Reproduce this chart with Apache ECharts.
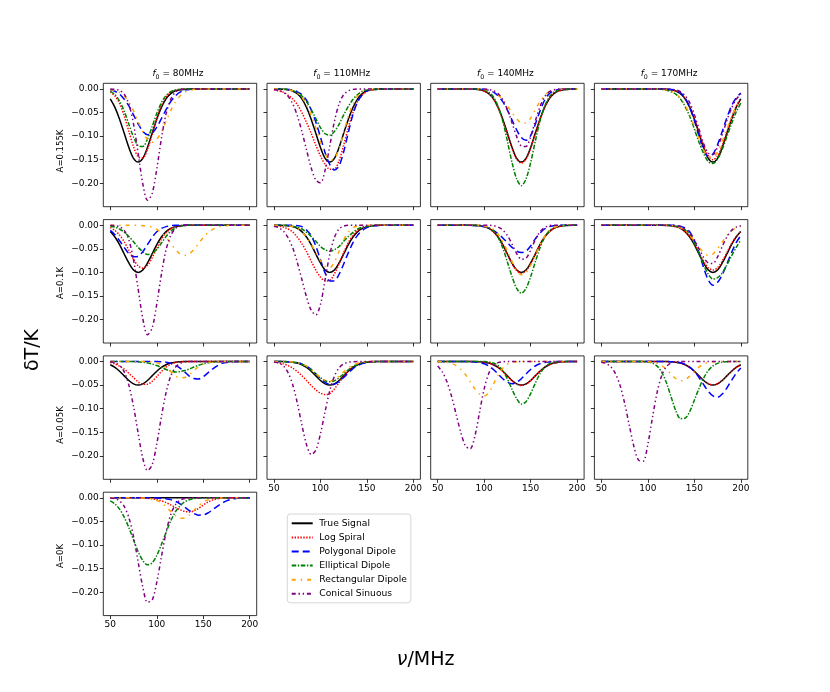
<!DOCTYPE html>
<html>
<head>
<meta charset="utf-8">
<script src="https://cdn.jsdelivr.net/npm/echarts@6/dist/echarts.min.js"></script>
<style>html,body{margin:0;padding:0;background:#fff}#c{width:830px;height:692px}</style>
</head>
<body>
<div id="c"></div>
<script>
// ---------------- data ----------------
const X = [50,55,60,65,70,75,80,85,90,95,100,105,110,115,120,125,130,135,140,145,150,155,160,165,170,175,180,185,190,195,200];
const XTICKS = [50,100,150,200];
const YTICKS = [0,-0.05,-0.1,-0.15,-0.2];
const NAMES = ['True Signal','Log Spiral','Polygonal Dipole','Elliptical Dipole','Rectangular Dipole','Conical Sinuous'];
const ROW_LABELS = ['A=0.155K','A=0.1K','A=0.05K','A=0K'];
const F0 = ['80','110','140','170'];

// Row 1: A = 0.155 K
const r1c1_true = [-0.021,-0.039,-0.064,-0.094,-0.124, -0.147,-0.155,-0.147,-0.124,-0.094, -0.064,-0.039,-0.021,-0.010,-0.004, -0.002,-0.001,0,0,0, 0,0,0,0,0, 0,0,0,0,0, 0];
const r1c1_log  = [-0.006,-0.015,-0.031,-0.057,-0.090, -0.122,-0.144,-0.146,-0.128,-0.097, -0.063,-0.035,-0.017,-0.007,-0.003, -0.001,0,0,0,0, 0,0,0,0,0, 0,0,0,0,0, 0];
const r1c1_poly = [-0.002,-0.005,-0.011,-0.022,-0.036, -0.055,-0.074,-0.090,-0.097,-0.094, -0.081,-0.063,-0.044,-0.027,-0.015, -0.007,-0.003,-0.001,0,0, 0,0,0,0,0, 0,0,0,0,0, 0];
const r1c1_ell  = [-0.005,-0.012,-0.026,-0.047,-0.075, -0.102,-0.120,-0.122,-0.106,-0.080, -0.052,-0.029,-0.014,-0.006,-0.002, -0.001,0,0,0,0, 0,0,0,0,0, 0,0,0,0,0, 0];
const r1c1_rect = [-0.001,-0.003,-0.007,-0.015,-0.028, -0.046,-0.069,-0.091,-0.107,-0.113, -0.107,-0.091,-0.069,-0.046,-0.028, -0.015,-0.007,-0.003,-0.001,0, 0,0,0,0,0, 0,0,0,0,0, 0];
const r1c1_con  = [0,-0.001,-0.003,-0.011,-0.032, -0.074,-0.137,-0.201,-0.236,-0.222, -0.170,-0.105,-0.053,-0.022,-0.007, -0.002,0,0,0,0, 0,0,0,0,0, 0,0,0,0,0, 0];

const r1c2_true = [0,-0.0002,-0.0006,-0.0017,-0.0044, -0.0102,-0.021,-0.039,-0.064,-0.094, -0.124,-0.147,-0.155,-0.147,-0.124, -0.094,-0.064,-0.039,-0.021,-0.010, -0.004,-0.002,-0.001,0,0, 0,0,0,0,0, 0];
const r1c2_log  = [-0.002,-0.004,-0.007,-0.013,-0.021, -0.033,-0.050,-0.071,-0.094,-0.119, -0.142,-0.160,-0.170,-0.170,-0.152, -0.119,-0.082,-0.050,-0.027,-0.013, -0.005,-0.002,-0.001,0,0, 0,0,0,0,0, 0];
const r1c2_poly = [0,0,-0.0003,-0.001,-0.002, -0.006,-0.012,-0.024,-0.044,-0.070, -0.102,-0.135,-0.160,-0.172,-0.163, -0.133,-0.092,-0.054,-0.027,-0.012, -0.004,-0.001,0,0,0, 0,0,0,0,0, 0];
const r1c2_ell  = [0,-0.0001,-0.0005,-0.001,-0.003, -0.008,-0.015,-0.027,-0.044,-0.063, -0.082,-0.095,-0.098,-0.090,-0.075, -0.055,-0.037,-0.022,-0.012,-0.005, -0.002,-0.001,0,0,0, 0,0,0,0,0, 0];
const r1c2_rect = [0,0,-0.001,-0.002,-0.004, -0.009,-0.018,-0.033,-0.056,-0.083, -0.113,-0.137,-0.151,-0.148,-0.126, -0.092,-0.058,-0.032,-0.015,-0.006, -0.002,-0.001,0,0,0, 0,0,0,0,0, 0];
const r1c2_con  = [-0.001,-0.003,-0.007,-0.015,-0.031, -0.056,-0.090,-0.129,-0.167,-0.193, -0.199,-0.172,-0.121,-0.069,-0.032, -0.012,-0.004,-0.001,0,0, 0,0,0,0,0, 0,0,0,0,0, 0];

const r1c3_true = [0,0,0,0,0, 0,0,-0.0002,-0.0006,-0.0017, -0.0044,-0.0102,-0.021,-0.039,-0.064, -0.094,-0.124,-0.147,-0.155,-0.147, -0.124,-0.094,-0.064,-0.039,-0.021, -0.010,-0.004,-0.002,-0.001,0, 0];
const r1c3_log  = [0,0,0,0,0, 0,0,-0.0002,-0.0006,-0.0017, -0.0045,-0.010,-0.021,-0.040,-0.065, -0.095,-0.126,-0.149,-0.157,-0.149, -0.126,-0.095,-0.065,-0.040,-0.021, -0.010,-0.0045,-0.0017,-0.0006,-0.0002, 0];
const r1c3_poly = [0,0,0,0,0, 0,0,0,0,0, -0.001,-0.003,-0.007,-0.015,-0.027, -0.045,-0.066,-0.087,-0.103,-0.109, -0.099,-0.075,-0.047,-0.024,-0.010, -0.004,-0.001,0,0,0, 0];
const r1c3_ell  = [0,0,0,0,0, 0,0,0,-0.0002,-0.0008, -0.0025,-0.007,-0.017,-0.037,-0.068, -0.111,-0.156,-0.191,-0.205,-0.191, -0.156,-0.111,-0.068,-0.037,-0.017, -0.007,-0.0025,-0.0008,-0.0002,0, 0];
const r1c3_rect = [0,0,0,0,0, 0,0,0,0,0, -0.001,-0.003,-0.006,-0.013,-0.023, -0.036,-0.050,-0.063,-0.072,-0.072, -0.062,-0.044,-0.027,-0.014,-0.006, -0.002,-0.001,0,0,0, 0];
const r1c3_con  = [0,0,0,0,0, 0,0,0,0,0, 0,-0.001,-0.004,-0.010,-0.023, -0.044,-0.072,-0.101,-0.121,-0.122, -0.101,-0.068,-0.038,-0.017,-0.006, -0.002,0,0,0,0, 0];

const r1c4_true = [0,0,0,0,0, 0,0,0,0,0, 0,0,0,-0.0002,-0.0006, -0.0017,-0.0044,-0.010,-0.021,-0.039, -0.064,-0.094,-0.124,-0.147,-0.155, -0.147,-0.124,-0.094,-0.064,-0.039, -0.021];
const r1c4_log  = [0,0,0,0,0, 0,0,0,0,0, 0,0,0,0,-0.001, -0.002,-0.004,-0.010,-0.020,-0.037, -0.062,-0.091,-0.120,-0.142,-0.150, -0.142,-0.120,-0.091,-0.062,-0.037, -0.020];
const r1c4_poly = [0,0,0,0,0, 0,0,0,0,0, 0,0,0,0,0, -0.001,-0.003,-0.008,-0.019,-0.039, -0.067,-0.100,-0.129,-0.143,-0.138, -0.118,-0.090,-0.061,-0.036,-0.019, -0.009];
const r1c4_ell  = [0,0,0,0,0, 0,0,0,0,0, 0,0,0,-0.001,-0.0025, -0.006,-0.011,-0.021,-0.037,-0.058, -0.085,-0.113,-0.137,-0.154,-0.158, -0.148,-0.128,-0.101,-0.074,-0.049, -0.030];
const r1c4_rect = [0,0,0,0,0, 0,0,0,0,0, 0,0,0,-0.001,-0.002, -0.005,-0.010,-0.020,-0.034,-0.055, -0.080,-0.106,-0.129,-0.143,-0.144, -0.133,-0.111,-0.085,-0.060,-0.038, -0.022];
const r1c4_con  = [0,0,0,0,0, 0,0,0,0,0, 0,0,0,0,0, -0.001,-0.002,-0.006,-0.014,-0.029, -0.054,-0.085,-0.116,-0.136,-0.139, -0.123,-0.097,-0.067,-0.041,-0.022, -0.010];

// Row 2: A = 0.1 K
const r2c1_true = [-0.0135,-0.025,-0.041,-0.061,-0.080, -0.095,-0.100,-0.095,-0.080,-0.061, -0.041,-0.025,-0.0135,-0.0066,-0.003, -0.001,-0.0004,0,0,0, 0,0,0,0,0, 0,0,0,0,0, 0];
const r2c1_log  = [-0.005,-0.011,-0.021,-0.035,-0.053, -0.072,-0.086,-0.091,-0.085,-0.069, -0.049,-0.030,-0.016,-0.008,-0.003, -0.001,0,0,0,0, 0,0,0,0,0, 0,0,0,0,0, 0];
const r2c1_poly = [-0.011,-0.020,-0.033,-0.047,-0.060, -0.067,-0.066,-0.056,-0.041,-0.026, -0.014,-0.007,-0.003,-0.001,0, 0,0,0,0,0, 0,0,0,0,0, 0,0,0,0,0, 0];
const r2c1_ell  = [-0.002,-0.004,-0.008,-0.015,-0.024, -0.035,-0.047,-0.056,-0.062,-0.060, -0.051,-0.038,-0.024,-0.013,-0.006, -0.002,-0.001,0,0,0, 0,0,0,0,0, 0,0,0,0,0, 0];
const r2c1_rect = [0,0,0,0,0, 0,0,-0.001,-0.002,-0.004, -0.009,-0.016,-0.026,-0.039,-0.051, -0.061,-0.064,-0.061,-0.051,-0.039, -0.026,-0.016,-0.009,-0.004,-0.002, -0.001,0,0,0,0, 0];
const r2c1_con  = [0,-0.001,-0.003,-0.011,-0.031, -0.073,-0.135,-0.198,-0.232,-0.218, -0.167,-0.104,-0.052,-0.022,-0.007, -0.002,0,0,0,0, 0,0,0,0,0, 0,0,0,0,0, 0];

const r2c2_true = [0,-0.0001,-0.0004,-0.001,-0.003, -0.0066,-0.0135,-0.025,-0.041,-0.061, -0.080,-0.095,-0.100,-0.095,-0.080, -0.061,-0.041,-0.025,-0.0135,-0.0066, -0.003,-0.001,-0.0004,-0.0001,0, 0,0,0,0,0, 0];
const r2c2_log  = [-0.001,-0.002,-0.004,-0.008,-0.014, -0.025,-0.039,-0.056,-0.076,-0.095, -0.110,-0.118,-0.117,-0.103,-0.082, -0.058,-0.037,-0.021,-0.011,-0.005, -0.002,-0.001,0,0,0, 0,0,0,0,0, 0];
const r2c2_poly = [0,0,0,0,0, -0.001,-0.003,-0.010,-0.022,-0.044, -0.073,-0.101,-0.118,-0.118,-0.104, -0.082,-0.058,-0.037,-0.021,-0.011, -0.005,-0.002,-0.001,0,0, 0,0,0,0,0, 0];
const r2c2_ell  = [0,0,0,-0.001,-0.002, -0.004,-0.008,-0.015,-0.024,-0.034, -0.045,-0.052,-0.055,-0.052,-0.045, -0.034,-0.024,-0.015,-0.008,-0.004, -0.002,-0.001,0,0,0, 0,0,0,0,0, 0];
const r2c2_rect = [0,0,0,-0.001,-0.003, -0.007,-0.014,-0.025,-0.040,-0.058, -0.075,-0.087,-0.090,-0.078,-0.055, -0.031,-0.015,-0.005,-0.002,0, 0,0,0,0,0, 0,0,0,0,0, 0];
const r2c2_con  = [-0.002,-0.005,-0.012,-0.026,-0.047, -0.078,-0.115,-0.152,-0.180,-0.190, -0.168,-0.115,-0.062,-0.026,-0.008, -0.002,0,0,0,0, 0,0,0,0,0, 0,0,0,0,0, 0];

const r2c3_true = [0,0,0,0,0, 0,0,-0.0001,-0.0004,-0.001, -0.003,-0.0066,-0.0135,-0.025,-0.041, -0.061,-0.080,-0.095,-0.100,-0.095, -0.080,-0.061,-0.041,-0.025,-0.0135, -0.0066,-0.003,-0.001,-0.0004,-0.0001, 0];
const r2c3_log  = [0,0,0,0,0, 0,0,0,0,-0.001, -0.003,-0.007,-0.014,-0.025,-0.042, -0.062,-0.082,-0.096,-0.102,-0.096, -0.082,-0.062,-0.042,-0.025,-0.014, -0.007,-0.003,-0.001,0,0, 0];
const r2c3_poly = [0,0,0,0,0, 0,0,0,-0.0006,-0.0015, -0.003,-0.006,-0.011,-0.018,-0.027, -0.037,-0.047,-0.055,-0.058,-0.055, -0.044,-0.029,-0.017,-0.008,-0.003, -0.001,0,0,0,0, 0];
const r2c3_ell  = [0,0,0,0,0, 0,0,0,0,-0.0006, -0.002,-0.005,-0.012,-0.026,-0.048, -0.078,-0.109,-0.134,-0.144,-0.134, -0.109,-0.078,-0.048,-0.026,-0.012, -0.005,-0.002,-0.0006,0,0, 0];
const r2c3_rect = [0,0,0,0,0, 0,0,0,0,-0.0005, -0.0015,-0.004,-0.009,-0.019,-0.034, -0.055,-0.077,-0.096,-0.105,-0.101, -0.085,-0.064,-0.042,-0.024,-0.012, -0.005,-0.002,-0.001,0,0, 0];
const r2c3_con  = [0,0,0,0,0, 0,0,0,0,0, 0,0,-0.001,-0.004,-0.010, -0.022,-0.040,-0.060,-0.072,-0.070, -0.053,-0.031,-0.014,-0.005,-0.001, 0,0,0,0,0, 0];

const r2c4_true = [0,0,0,0,0, 0,0,0,0,0, 0,0,0,-0.0001,-0.0004, -0.001,-0.003,-0.0066,-0.0135,-0.025, -0.041,-0.061,-0.080,-0.095,-0.100, -0.095,-0.080,-0.061,-0.041,-0.025, -0.0135];
const r2c4_log  = [0,0,0,0,0, 0,0,0,0,0, 0,0,0,0,0, -0.001,-0.003,-0.006,-0.013,-0.024, -0.039,-0.058,-0.076,-0.090,-0.095, -0.090,-0.076,-0.058,-0.039,-0.024, -0.013];
const r2c4_poly = [0,0,0,0,0, 0,0,0,0,0, 0,0,0,0,0, 0,-0.0005,-0.002,-0.006,-0.014, -0.032,-0.058,-0.090,-0.116,-0.127, -0.121,-0.105,-0.082,-0.058,-0.037, -0.022];
const r2c4_ell  = [0,0,0,0,0, 0,0,0,0,0, 0,0,0,0,0, -0.001,-0.002,-0.004,-0.010,-0.020, -0.037,-0.059,-0.084,-0.104,-0.114, -0.111,-0.101,-0.084,-0.065,-0.047, -0.031];
const r2c4_rect = [0,0,0,0,0, 0,0,0,0,0, 0,0,0,0,0, -0.001,-0.002,-0.0055,-0.011,-0.021, -0.033,-0.047,-0.058,-0.064,-0.061, -0.050,-0.036,-0.022,-0.012,-0.005, -0.002];
const r2c4_con  = [0,0,0,0,0, 0,0,0,0,0, 0,0,0,0,0, 0,-0.001,-0.003,-0.008,-0.017, -0.031,-0.050,-0.068,-0.080,-0.081, -0.067,-0.045,-0.025,-0.011,-0.004, -0.001];

// Row 3: A = 0.05 K
const r3c1_true = [-0.0068,-0.0125,-0.0206,-0.0304,-0.0401, -0.0473,-0.050,-0.0473,-0.0401,-0.0304, -0.0206,-0.0125,-0.0068,-0.0033,-0.0014, -0.0006,-0.0002,0,0,0, 0,0,0,0,0, 0,0,0,0,0, 0];
const r3c1_log  = [-0.002,-0.005,-0.010,-0.016,-0.025, -0.034,-0.043,-0.048,-0.048,-0.042, -0.032,-0.021,-0.012,-0.006,-0.002, -0.001,0,0,0,0, 0,0,0,0,0, 0,0,0,0,0, 0];
const r3c1_poly = [0,0,0,0,0, 0,0,0,0,0, 0,-0.0005,-0.0015,-0.004,-0.008, -0.014,-0.022,-0.031,-0.036,-0.037, -0.032,-0.024,-0.016,-0.009,-0.004, -0.002,-0.0006,0,0,0, 0];
const r3c1_ell  = [0,0,0,0,0, 0,-0.0007,-0.0015,-0.003,-0.0053, -0.0086,-0.0125,-0.017,-0.020,-0.022, -0.0216,-0.019,-0.016,-0.0117,-0.0078, -0.0048,-0.0026,-0.0013,-0.0006,0, 0,0,0,0,0, 0];
const r3c1_rect = [0,0,0,0,0, 0,0,0,0,-0.001, -0.0028,-0.0065,-0.013,-0.021,-0.030, -0.0345,-0.034,-0.028,-0.019,-0.011, -0.0056,-0.0023,-0.0008,0,0, 0,0,0,0,0, 0];
const r3c1_con  = [-0.0007,-0.0026,-0.0083,-0.022,-0.050, -0.095,-0.152,-0.205,-0.231,-0.219, -0.175,-0.117,-0.066,-0.031,-0.0125, -0.004,-0.0012,0,0,0, 0,0,0,0,0, 0,0,0,0,0, 0];

const r3c2_true = [0,0,-0.0002,-0.0006,-0.0014, -0.0033,-0.0068,-0.0125,-0.0206,-0.0304, -0.0401,-0.0473,-0.050,-0.0473,-0.0401, -0.0304,-0.0206,-0.0125,-0.0068,-0.0033, -0.0014,-0.0006,-0.0002,0,0, 0,0,0,0,0, 0];
const r3c2_log  = [-0.0014,-0.0027,-0.005,-0.0086,-0.014, -0.021,-0.030,-0.040,-0.051,-0.060, -0.067,-0.070,-0.068,-0.058,-0.045, -0.031,-0.019,-0.011,-0.0054,-0.0024, -0.001,0,0,0,0, 0,0,0,0,0, 0];
const r3c2_poly = [0,0,0,-0.0004,-0.001, -0.0024,-0.005,-0.0097,-0.0167,-0.0258, -0.0356,-0.044,-0.0486,-0.048,-0.0425, -0.0337,-0.0239,-0.0151,-0.0086,-0.0044, -0.002,-0.0008,0,0,0, 0,0,0,0,0, 0];
const r3c2_ell  = [0,0,-0.0002,-0.0005,-0.0012, -0.0028,-0.0058,-0.0107,-0.0177,-0.0261, -0.0344,-0.0407,-0.043,-0.0407,-0.0344, -0.0261,-0.0177,-0.0107,-0.0058,-0.0028, -0.0012,-0.0005,-0.0002,0,0, 0,0,0,0,0, 0];
const r3c2_rect = [0,0,0,-0.0003,-0.0009, -0.0022,-0.0049,-0.0097,-0.017,-0.025, -0.034,-0.040,-0.042,-0.038,-0.031, -0.022,-0.0137,-0.0075,-0.0036,-0.0016, -0.0006,0,0,0,0, 0,0,0,0,0, 0];
const r3c2_con  = [-0.0009,-0.003,-0.009,-0.023,-0.048, -0.087,-0.134,-0.176,-0.197,-0.188, -0.153,-0.106,-0.062,-0.031,-0.0135, -0.005,-0.0015,-0.0004,0,0, 0,0,0,0,0, 0,0,0,0,0, 0];

const r3c3_true = [0,0,0,0,0, 0,0,0,-0.0002,-0.0006, -0.0014,-0.0033,-0.0068,-0.0125,-0.0206, -0.0304,-0.0401,-0.0473,-0.050,-0.0473, -0.0401,-0.0304,-0.0206,-0.0125,-0.0068, -0.0033,-0.0014,-0.0006,-0.0002,0, 0];
const r3c3_log  = [0,0,0,0,0, 0,0,0,-0.0002,-0.0006, -0.0014,-0.0033,-0.0068,-0.0125,-0.0206, -0.0304,-0.041,-0.048,-0.051,-0.048, -0.041,-0.0304,-0.0206,-0.0125,-0.0068, -0.0033,-0.0014,-0.0006,-0.0002,0, 0];
const r3c3_poly = [0,0,0,0,0, 0,0,-0.0003,-0.0008,-0.0021, -0.0048,-0.0095,-0.0169,-0.0265,-0.0364, -0.044,-0.047,-0.044,-0.0364,-0.0265, -0.0169,-0.0095,-0.0048,-0.0021,-0.0008, -0.0003,0,0,0,0, 0];
const r3c3_ell  = [0,0,0,0,0, 0,0,0,0,0, 0,-0.001,-0.0032,-0.0086,-0.019, -0.037,-0.059,-0.079,-0.090,-0.085, -0.068,-0.046,-0.026,-0.012,-0.0049, -0.0016,-0.0005,0,0,0, 0];
const r3c3_rect = [-0.0002,-0.0006,-0.0016,-0.004,-0.0086, -0.0165,-0.028,-0.043,-0.058,-0.069, -0.073,-0.066,-0.048,-0.029,-0.014, -0.0055,-0.0018,-0.0005,0,0, 0,0,0,0,0, 0,0,0,0,0, 0];
const r3c3_con  = [-0.0097,-0.022,-0.043,-0.074,-0.113, -0.151,-0.179,-0.185,-0.158,-0.108, -0.058,-0.025,-0.0087,-0.0024,-0.0005, 0,0,0,0,0, 0,0,0,0,0, 0,0,0,0,0, 0];

const r3c4_true = [0,0,0,0,0, 0,0,0,0,0, 0,0,0,-0.0001,-0.0002, -0.0006,-0.0014,-0.0033,-0.0068,-0.0125, -0.0206,-0.0304,-0.0401,-0.0473,-0.050, -0.0473,-0.0401,-0.0304,-0.0206,-0.0125, -0.0068];
const r3c4_log  = [0,0,0,0,0, 0,0,0,0,0, 0,0,0,-0.0001,-0.0002, -0.0006,-0.0014,-0.0033,-0.0068,-0.0124, -0.0204,-0.0301,-0.0397,-0.0468,-0.0495, -0.0468,-0.0397,-0.0301,-0.0204,-0.0124, -0.0068];
const r3c4_poly = [0,0,0,0,0, 0,0,0,0,0, 0,0,0,0,0, -0.0004,-0.001,-0.0026,-0.0059,-0.0117, -0.021,-0.034,-0.049,-0.063,-0.073, -0.076,-0.069,-0.056,-0.040,-0.025, -0.0135];
const r3c4_ell  = [0,0,0,0,0, 0,0,0,0,-0.0003, -0.0011,-0.0036,-0.0098,-0.023,-0.045, -0.075,-0.104,-0.121,-0.120,-0.106, -0.082,-0.057,-0.035,-0.019,-0.0092, -0.004,-0.0015,-0.0005,0,0, 0];
const r3c4_rect = [0,0,0,0,0, 0,0,0,0,0, -0.0005,-0.0015,-0.0039,-0.0089,-0.017, -0.027,-0.036,-0.041,-0.039,-0.031, -0.021,-0.0117,-0.0055,-0.0022,-0.0007, 0,0,0,0,0, 0];
const r3c4_con  = [-0.0014,-0.004,-0.0107,-0.025,-0.050, -0.088,-0.135,-0.180,-0.209,-0.211, -0.175,-0.118,-0.065,-0.029,-0.0105, -0.0031,-0.0008,0,0,0, 0,0,0,0,0, 0,0,0,0,0, 0];

// Row 4: A = 0 K
const r4c1_true = [0,0,0,0,0, 0,0,0,0,0, 0,0,0,0,0, 0,0,0,0,0, 0,0,0,0,0, 0,0,0,0,0, 0];
const r4c1_log  = [0,0,0,0,0, 0,0,-0.0004,-0.0009,-0.0019, -0.0036,-0.0063,-0.0102,-0.015,-0.0203, -0.0252,-0.0287,-0.030,-0.0279,-0.0223, -0.0154,-0.0092,-0.0047,-0.0021,-0.0008, -0.0003,0,0,0,0, 0];
const r4c1_poly = [0,0,0,0,0, 0,0,0,0,0, -0.0003,-0.0007,-0.0018,-0.0038,-0.0073, -0.0126,-0.0195,-0.0269,-0.0332,-0.0367, -0.0363,-0.0321,-0.0254,-0.018,-0.0114, -0.0065,-0.0033,-0.0015,-0.0006,-0.0002, 0];
const r4c1_ell  = [-0.0065,-0.013,-0.024,-0.041,-0.063, -0.089,-0.114,-0.133,-0.142,-0.138, -0.122,-0.099,-0.073,-0.049,-0.030, -0.017,-0.0087,-0.0041,-0.0017,-0.0007, -0.0002,0,0,0,0, 0,0,0,0,0, 0];
const r4c1_rect = [0,0,0,0,0, 0,0,-0.0002,-0.0007,-0.0021, -0.0051,-0.0105,-0.0187,-0.0287,-0.038, -0.0435,-0.0429,-0.0364,-0.0267,-0.0169, -0.0092,-0.0043,-0.0018,-0.0006,-0.0002, 0,0,0,0,0, 0];
const r4c1_con  = [-0.0005,-0.0019,-0.0065,-0.018,-0.042, -0.082,-0.136,-0.189,-0.221,-0.217, -0.179,-0.125,-0.073,-0.036,-0.0148, -0.0052,-0.0015,-0.0004,0,0, 0,0,0,0,0, 0,0,0,0,0, 0];

const PANELS = [
  {row:0, col:0, lines:[r1c1_true, r1c1_log, r1c1_poly, r1c1_ell, r1c1_rect, r1c1_con]},
  {row:0, col:1, lines:[r1c2_true, r1c2_log, r1c2_poly, r1c2_ell, r1c2_rect, r1c2_con]},
  {row:0, col:2, lines:[r1c3_true, r1c3_log, r1c3_poly, r1c3_ell, r1c3_rect, r1c3_con]},
  {row:0, col:3, lines:[r1c4_true, r1c4_log, r1c4_poly, r1c4_ell, r1c4_rect, r1c4_con]},
  {row:1, col:0, lines:[r2c1_true, r2c1_log, r2c1_poly, r2c1_ell, r2c1_rect, r2c1_con]},
  {row:1, col:1, lines:[r2c2_true, r2c2_log, r2c2_poly, r2c2_ell, r2c2_rect, r2c2_con]},
  {row:1, col:2, lines:[r2c3_true, r2c3_log, r2c3_poly, r2c3_ell, r2c3_rect, r2c3_con]},
  {row:1, col:3, lines:[r2c4_true, r2c4_log, r2c4_poly, r2c4_ell, r2c4_rect, r2c4_con]},
  {row:2, col:0, lines:[r3c1_true, r3c1_log, r3c1_poly, r3c1_ell, r3c1_rect, r3c1_con]},
  {row:2, col:1, lines:[r3c2_true, r3c2_log, r3c2_poly, r3c2_ell, r3c2_rect, r3c2_con]},
  {row:2, col:2, lines:[r3c3_true, r3c3_log, r3c3_poly, r3c3_ell, r3c3_rect, r3c3_con]},
  {row:2, col:3, lines:[r3c4_true, r3c4_log, r3c4_poly, r3c4_ell, r3c4_rect, r3c4_con]},
  {row:3, col:0, lines:[r4c1_true, r4c1_log, r4c1_poly, r4c1_ell, r4c1_rect, r4c1_con]}
];

// ---------------- style / layout ----------------
const FONT = "'DejaVu Sans', sans-serif";
const COLORS = ['#000000','#ff0000','#0000ff','#008000','#ffa500','#800080'];
const DASHES = ['solid', [1.4,1.5], [7,4], [4.5,1.6,1.4,1.6], [4,5,1.4,5], [4,2.8,1.4,2.8,1.4,2.8]];
const GL0 = 103.3, GDX = 163.7, GT0 = 83.3, GDY = 136.3, GW = 153.4, GH = 123.4;
const ROW_LABEL_Y = [151, 283, 425, 556];
const gLeft = c => GL0 + c * GDX;
const gTop = r => GT0 + r * GDY;
const isBottom = p => (p.row === 3) || (p.row === 2 && p.col > 0);
const fmtY = v => Math.abs(v) < 1e-9 ? '0.00' : '\u2212' + Math.abs(v).toFixed(2);

const grids = [], xAxes = [], yAxes = [], series = [];
PANELS.forEach((p, i) => {
  grids.push({left: gLeft(p.col), top: gTop(p.row), width: GW, height: GH, show: true,
    borderColor: '#000', borderWidth: 0.8, backgroundColor: 'transparent', containLabel: false, outerBoundsMode: 'none'});
  xAxes.push({type: 'value', gridIndex: i, min: 42.5, max: 207.5, position: 'bottom',
    axisLine: {show: false, onZero: false}, splitLine: {show: false},
    axisTick: {show: true, customValues: XTICKS, length: 3.5, lineStyle: {color: '#000', width: 0.8}},
    axisLabel: {show: isBottom(p), customValues: XTICKS, margin: 5, fontSize: 9, color: '#000', fontFamily: FONT}});
  yAxes.push({type: 'value', gridIndex: i, min: -0.2495, max: 0.0119, position: 'left',
    axisLine: {show: false, onZero: false}, splitLine: {show: false},
    axisTick: {show: true, customValues: YTICKS, length: 3.5, lineStyle: {color: '#000', width: 0.8}},
    axisLabel: {show: p.col === 0, customValues: YTICKS, formatter: fmtY, margin: 4.5, fontSize: 9, color: '#000', fontFamily: FONT}});
  p.lines.forEach((vals, k) => {
    series.push({type: 'line', name: NAMES[k], xAxisIndex: i, yAxisIndex: i,
      data: X.map((x, j) => [x, vals[j]]).filter(d => d[1] !== undefined),
      symbol: 'none', smooth: 0.3, silent: true, animation: false,
      lineStyle: {color: COLORS[k], width: 1.5, type: DASHES[k], cap: 'butt'},
      itemStyle: {color: COLORS[k]}});
  });
});

const graphics = [];
F0.forEach((f, c) => {
  graphics.push({type: 'text', x: gLeft(c) + GW / 2 - 2, y: 74, silent: true,
    style: {text: '{f|f}{s|0}{n| = ' + f + 'MHz}', align: 'center', verticalAlign: 'middle',
      textAlign: 'center', textVerticalAlign: 'middle', fill: '#000',
      rich: {f: {fontSize: 9, fontStyle: 'italic', fontFamily: FONT, lineHeight: 12, verticalAlign: 'middle'},
             s: {fontSize: 6.3, fontFamily: FONT, lineHeight: 6, verticalAlign: 'bottom'},
             n: {fontSize: 9, fontFamily: FONT, lineHeight: 12, verticalAlign: 'middle'}}}});
});
ROW_LABELS.forEach((t, r) => {
  graphics.push({type: 'text', x: 60.7, y: ROW_LABEL_Y[r], rotation: Math.PI / 2, silent: true,
    style: {text: t, fontSize: 8.5, fontFamily: FONT, fill: '#000', align: 'center', verticalAlign: 'middle',
      textAlign: 'center', textVerticalAlign: 'middle'}});
});
graphics.push({type: 'text', x: 33.5, y: 350, rotation: Math.PI / 2, silent: true,
  style: {text: 'δT/K', fontSize: 19, fontFamily: FONT, fill: '#000', align: 'center', verticalAlign: 'middle',
    textAlign: 'center', textVerticalAlign: 'middle'}});
graphics.push({type: 'text', x: 425.6, y: 660, silent: true,
  style: {text: '{i|ν}{n|/MHz}', align: 'center', verticalAlign: 'middle', textAlign: 'center', textVerticalAlign: 'middle', fill: '#000',
    rich: {i: {fontSize: 19, fontStyle: 'italic', fontFamily: FONT}, n: {fontSize: 19, fontFamily: FONT}}}});

const chart = echarts.init(document.getElementById('c'), null, {renderer: 'canvas'});
chart.setOption({
  animation: false,
  backgroundColor: '#ffffff',
  grid: grids, xAxis: xAxes, yAxis: yAxes, series: series,
  legend: {data: NAMES, orient: 'vertical', left: 287.3, top: 514, padding: [4.3, 4, 4, 3.4],
    itemWidth: 21, itemHeight: 10, itemGap: 4.1, selectedMode: false,
    backgroundColor: 'rgba(255,255,255,0.8)', borderColor: '#cccccc', borderWidth: 0.8, borderRadius: 3,
    itemStyle: {opacity: 0},
    textStyle: {fontSize: 9.2, fontFamily: FONT, color: '#000', lineHeight: 10, padding: [0, 0, 0, 1.6]}},
  graphic: graphics
});
</script>
</body>
</html>
